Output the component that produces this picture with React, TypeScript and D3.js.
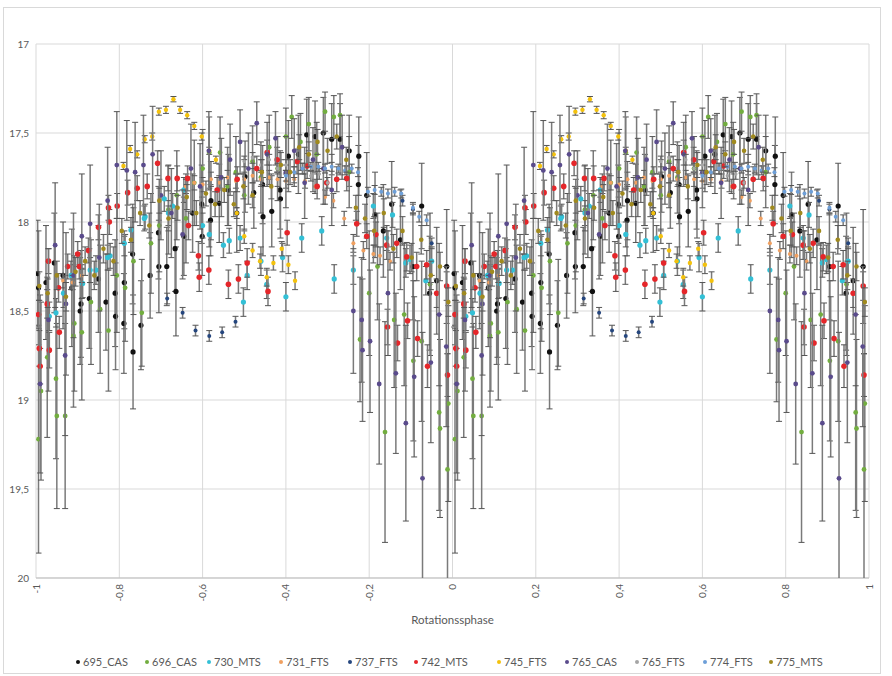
import React from 'react';
import * as d3 from 'd3';

type P = [number, number, number]; // [phase 0..1, magnitude, error]

const xTicks = [-1, -0.8, -0.6, -0.4, -0.2, 0, 0.2, 0.4, 0.6, 0.8, 1];
const yTicks = [17, 17.5, 18, 18.5, 19, 19.5, 20];
const xTitle = 'Rotationssphase';

const seriesNames = ['695_CAS', '696_CAS', '730_MTS', '731_FTS', '737_FTS', '742_MTS', '745_FTS', '765_CAS', '765_FTS', '774_FTS', '775_MTS'];

const s695_CAS: P[] = [
  [0.004, 18.29, 0.30], [0.006, 18.37, 0.32], [0.024, 18.34, 0.32], [0.044, 18.23, 0.28], [0.065, 18.30, 0.30],
  [0.086, 18.37, 0.33], [0.106, 18.50, 0.30], [0.108, 18.46, 0.30], [0.128, 18.43, 0.28], [0.150, 18.32, 0.30],
  [0.168, 18.45, 0.27], [0.190, 18.40, 0.30], [0.191, 18.53, 0.30], [0.211, 18.57, 0.28], [0.212, 18.34, 0.26],
  [0.232, 18.18, 0.28], [0.233, 18.73, 0.32], [0.252, 18.58, 0.25], [0.274, 18.30, 0.24], [0.294, 18.06, 0.26],
  [0.295, 18.25, 0.26], [0.314, 18.25, 0.22], [0.334, 18.15, 0.24], [0.336, 18.39, 0.25], [0.355, 18.08, 0.22],
  [0.376, 17.95, 0.22], [0.398, 17.90, 0.22], [0.399, 18.08, 0.22], [0.419, 17.99, 0.20], [0.420, 17.88, 0.22],
  [0.440, 17.895, 0.22], [0.462, 17.82, 0.20], [0.482, 17.95, 0.22], [0.502, 17.745, 0.20], [0.523, 17.835, 0.20],
  [0.544, 17.79, 0.22], [0.545, 17.97, 0.22], [0.566, 17.94, 0.20], [0.586, 17.82, 0.22], [0.587, 17.87, 0.22],
  [0.606, 17.63, 0.20], [0.630, 17.62, 0.22], [0.650, 17.51, 0.20], [0.670, 17.52, 0.20], [0.690, 17.50, 0.20],
  [0.710, 17.535, 0.20], [0.730, 17.535, 0.20], [0.752, 17.60, 0.20], [0.774, 17.79, 0.22], [0.775, 17.63, 0.22],
  [0.794, 17.85, 0.24], [0.814, 17.96, 0.24], [0.834, 18.05, 0.26], [0.854, 17.90, 0.24], [0.875, 18.10, 0.28],
  [0.905, 18.25, 0.30], [0.926, 17.91, 0.24], [0.945, 18.40, 0.32], [0.962, 18.33, 0.30], [0.986, 18.25, 0.32],
];

const s696_CAS: P[] = [
  [0.006, 19.22, 0.64], [0.012, 18.95, 0.50], [0.027, 18.76, 0.45], [0.048, 18.88, 0.45], [0.050, 19.09, 0.52],
  [0.070, 19.09, 0.52], [0.090, 18.64, 0.40], [0.092, 18.57, 0.38], [0.110, 18.62, 0.38], [0.132, 18.45, 0.35],
  [0.154, 18.49, 0.36], [0.174, 18.61, 0.34], [0.194, 18.30, 0.32], [0.214, 18.37, 0.30], [0.234, 18.22, 0.30],
  [0.254, 18.51, 0.30], [0.276, 18.12, 0.28], [0.296, 18.02, 0.26], [0.318, 17.93, 0.25], [0.338, 17.85, 0.25],
  [0.360, 17.98, 0.25], [0.380, 17.78, 0.24], [0.400, 17.70, 0.22], [0.416, 17.61, 0.20], [0.442, 17.61, 0.20],
  [0.460, 17.80, 0.22], [0.480, 17.72, 0.20], [0.500, 17.85, 0.20], [0.520, 17.66, 0.20], [0.540, 17.75, 0.20],
  [0.560, 17.58, 0.18], [0.580, 17.70, 0.18], [0.600, 17.52, 0.16], [0.614, 17.41, 0.12], [0.635, 17.55, 0.16],
  [0.655, 17.45, 0.15], [0.674, 17.62, 0.18], [0.694, 17.38, 0.11], [0.715, 17.41, 0.12], [0.730, 17.40, 0.12],
  [0.752, 17.72, 0.20], [0.778, 18.66, 0.35], [0.800, 18.40, 0.35], [0.820, 18.25, 0.30], [0.838, 19.18, 0.62],
  [0.860, 18.55, 0.38], [0.884, 18.52, 0.40], [0.906, 18.78, 0.45], [0.926, 18.67, 0.45], [0.946, 18.35, 0.40],
  [0.968, 19.07, 0.55], [0.970, 19.16, 0.50], [0.988, 19.39, 0.65], [0.990, 19.02, 0.55],
];

const s730_MTS: P[] = [
  [0.032, 18.53, 0.08], [0.048, 18.51, 0.08], [0.066, 18.40, 0.08], [0.084, 18.30, 0.08], [0.112, 18.345, 0.08],
  [0.130, 18.27, 0.07], [0.144, 18.27, 0.08], [0.172, 18.20, 0.07], [0.178, 18.19, 0.07], [0.212, 18.12, 0.07],
  [0.228, 18.045, 0.07], [0.260, 17.98, 0.07], [0.262, 17.97, 0.07], [0.308, 17.87, 0.07], [0.318, 17.95, 0.07],
  [0.328, 17.91, 0.07], [0.355, 17.82, 0.07], [0.400, 18.02, 0.07], [0.416, 18.07, 0.07], [0.450, 18.13, 0.07],
  [0.464, 18.105, 0.07], [0.490, 18.09, 0.07], [0.498, 18.45, 0.08], [0.507, 18.30, 0.08], [0.540, 18.22, 0.08],
  [0.554, 18.35, 0.08], [0.592, 18.20, 0.08], [0.600, 18.42, 0.08], [0.638, 18.09, 0.08], [0.686, 18.05, 0.08],
  [0.716, 18.32, 0.08], [0.762, 18.27, 0.08], [0.810, 17.91, 0.07], [0.842, 18.09, 0.07], [0.856, 17.96, 0.07],
  [0.888, 18.23, 0.08], [0.898, 18.21, 0.08], [0.936, 18.33, 0.08], [0.950, 18.22, 0.08],
];

const s731_FTS: P[] = [
  [0.065, 18.33, 0.04], [0.088, 18.34, 0.04], [0.110, 18.30, 0.04], [0.360, 17.80, 0.04], [0.380, 17.78, 0.04],
  [0.400, 17.79, 0.04], [0.420, 17.76, 0.04], [0.440, 17.78, 0.04], [0.460, 17.75, 0.04], [0.480, 17.77, 0.04],
  [0.500, 17.76, 0.04], [0.520, 17.74, 0.04], [0.540, 17.76, 0.04], [0.560, 17.75, 0.04], [0.580, 17.76, 0.04],
  [0.600, 17.77, 0.04], [0.620, 17.76, 0.04], [0.646, 17.77, 0.04], [0.670, 17.80, 0.04], [0.694, 17.86, 0.04],
  [0.714, 17.88, 0.04], [0.740, 17.98, 0.04], [0.762, 18.12, 0.05], [0.786, 18.16, 0.05], [0.810, 18.18, 0.05],
  [0.826, 18.19, 0.05], [0.850, 18.22, 0.05],
];

const s737_FTS: P[] = [
  [0.315, 18.43, 0.03], [0.352, 18.51, 0.03], [0.383, 18.61, 0.03], [0.416, 18.64, 0.03], [0.447, 18.62, 0.03],
  [0.479, 18.56, 0.03], [0.880, 17.88, 0.03], [0.905, 17.93, 0.03], [0.950, 18.12, 0.03],
];

const s742_MTS: P[] = [
  [0.006, 18.52, 0.08], [0.008, 18.71, 0.10], [0.010, 18.81, 0.10], [0.027, 18.46, 0.08], [0.030, 18.22, 0.07],
  [0.032, 18.72, 0.10], [0.054, 18.37, 0.08], [0.056, 18.62, 0.09], [0.076, 18.25, 0.07], [0.100, 18.18, 0.07],
  [0.104, 18.25, 0.07], [0.126, 18.16, 0.07], [0.150, 18.03, 0.07], [0.174, 17.92, 0.07], [0.176, 18.00, 0.07],
  [0.195, 17.91, 0.07], [0.220, 17.835, 0.07], [0.243, 17.81, 0.07], [0.267, 17.80, 0.07], [0.292, 17.67, 0.07],
  [0.317, 17.755, 0.07], [0.339, 17.755, 0.07], [0.364, 17.755, 0.07], [0.366, 18.02, 0.08], [0.390, 18.19, 0.08],
  [0.392, 18.31, 0.08], [0.415, 18.27, 0.08], [0.435, 17.82, 0.07], [0.462, 18.35, 0.08], [0.483, 17.76, 0.07],
  [0.486, 18.32, 0.08], [0.507, 18.23, 0.08], [0.530, 17.70, 0.07], [0.555, 17.61, 0.07], [0.557, 18.39, 0.08],
  [0.579, 17.65, 0.07], [0.603, 18.06, 0.07], [0.627, 17.66, 0.07], [0.651, 17.685, 0.07], [0.675, 17.80, 0.07],
  [0.698, 17.78, 0.07], [0.722, 17.76, 0.07], [0.746, 17.755, 0.07], [0.770, 18.01, 0.07], [0.794, 18.08, 0.07],
  [0.816, 18.07, 0.07], [0.842, 18.13, 0.08], [0.844, 18.59, 0.10], [0.866, 18.12, 0.08], [0.868, 18.68, 0.10],
  [0.890, 18.195, 0.08], [0.892, 18.555, 0.10], [0.914, 18.25, 0.08], [0.916, 18.655, 0.10], [0.938, 18.24, 0.08],
  [0.940, 18.81, 0.12], [0.962, 18.40, 0.08], [0.986, 18.36, 0.08], [0.988, 18.86, 0.12],
];

const s745_FTS: P[] = [
  [0.210, 17.685, 0.02], [0.226, 17.59, 0.02], [0.243, 17.62, 0.02], [0.261, 17.535, 0.02], [0.279, 17.52, 0.02],
  [0.295, 17.38, 0.02], [0.312, 17.37, 0.02], [0.330, 17.31, 0.015], [0.346, 17.37, 0.02], [0.363, 17.40, 0.02],
  [0.380, 17.46, 0.02], [0.398, 17.52, 0.02], [0.416, 17.60, 0.02], [0.432, 17.65, 0.02], [0.482, 17.95, 0.03],
  [0.500, 18.08, 0.04], [0.520, 18.16, 0.04], [0.538, 18.22, 0.04], [0.554, 18.31, 0.05], [0.570, 18.23, 0.04],
  [0.590, 18.15, 0.04], [0.606, 18.24, 0.05], [0.622, 18.33, 0.05],
];

const s765_CAS: P[] = [
  [0.010, 18.91, 0.50], [0.030, 18.55, 0.40], [0.046, 18.13, 0.35], [0.070, 18.75, 0.45], [0.072, 18.46, 0.40],
  [0.090, 18.30, 0.35], [0.110, 18.08, 0.35], [0.130, 18.01, 0.33], [0.152, 18.20, 0.30], [0.172, 17.88, 0.30],
  [0.194, 17.68, 0.30], [0.218, 17.71, 0.28], [0.238, 17.72, 0.28], [0.258, 17.68, 0.28], [0.280, 17.62, 0.27],
  [0.300, 17.85, 0.25], [0.325, 17.95, 0.25], [0.352, 18.07, 0.25], [0.372, 17.70, 0.25], [0.394, 17.80, 0.24],
  [0.415, 17.60, 0.22], [0.445, 17.75, 0.22], [0.466, 17.65, 0.20], [0.490, 17.55, 0.18], [0.510, 17.70, 0.20],
  [0.530, 17.445, 0.12], [0.555, 17.62, 0.18], [0.575, 17.53, 0.15], [0.600, 17.72, 0.20], [0.620, 17.60, 0.18],
  [0.645, 17.78, 0.20], [0.665, 17.65, 0.18], [0.690, 17.70, 0.20], [0.710, 17.82, 0.20], [0.735, 17.58, 0.18],
  [0.762, 18.50, 0.35], [0.782, 18.55, 0.35], [0.784, 18.72, 0.40], [0.802, 18.67, 0.40], [0.824, 18.91, 0.45],
  [0.845, 18.40, 0.35], [0.864, 18.85, 0.45], [0.888, 19.13, 0.55], [0.908, 18.87, 0.45], [0.928, 19.44, 0.82],
  [0.948, 18.79, 0.45], [0.968, 18.52, 0.40], [0.985, 18.70, 0.45],
];

const s765_FTS: P[] = [
  [0.500, 17.66, 0.03], [0.520, 17.64, 0.03], [0.540, 17.68, 0.03], [0.560, 17.65, 0.03], [0.580, 17.70, 0.03],
  [0.600, 17.68, 0.03], [0.620, 17.72, 0.03], [0.640, 17.70, 0.03], [0.660, 17.74, 0.03], [0.680, 17.73, 0.03],
  [0.700, 17.78, 0.03],
];

const s774_FTS: P[] = [
  [0.600, 17.74, 0.03], [0.620, 17.72, 0.03], [0.640, 17.70, 0.03], [0.660, 17.69, 0.025], [0.678, 17.69, 0.025],
  [0.694, 17.70, 0.025], [0.710, 17.69, 0.025], [0.726, 17.70, 0.025], [0.742, 17.71, 0.025], [0.758, 17.70, 0.025],
  [0.773, 17.72, 0.025], [0.797, 17.83, 0.025], [0.813, 17.82, 0.025], [0.829, 17.83, 0.025], [0.845, 17.84, 0.025],
  [0.861, 17.83, 0.025], [0.877, 17.84, 0.025], [0.905, 17.92, 0.03], [0.920, 17.97, 0.03], [0.938, 17.99, 0.03],
];

const s775_MTS: P[] = [
  [0.008, 18.36, 0.08], [0.028, 18.40, 0.08], [0.050, 18.30, 0.08], [0.072, 18.42, 0.08], [0.095, 18.28, 0.08],
  [0.118, 18.22, 0.08], [0.140, 18.30, 0.08], [0.162, 18.15, 0.08], [0.186, 18.22, 0.08], [0.206, 18.05, 0.07],
  [0.228, 18.10, 0.07], [0.250, 17.95, 0.07], [0.272, 18.02, 0.07], [0.296, 17.88, 0.07], [0.318, 17.98, 0.07],
  [0.340, 17.92, 0.07], [0.362, 17.86, 0.07], [0.385, 17.95, 0.07], [0.408, 17.84, 0.07], [0.430, 17.90, 0.07],
  [0.452, 17.82, 0.07], [0.475, 17.90, 0.07], [0.498, 17.80, 0.07], [0.520, 17.85, 0.07], [0.542, 17.72, 0.07],
  [0.565, 17.80, 0.07], [0.588, 17.68, 0.07], [0.610, 17.72, 0.07], [0.632, 17.58, 0.07], [0.655, 17.62, 0.07],
  [0.676, 17.55, 0.07], [0.700, 17.60, 0.07], [0.722, 17.52, 0.07], [0.745, 17.65, 0.07], [0.768, 17.92, 0.07],
  [0.790, 17.98, 0.08], [0.812, 18.05, 0.08], [0.835, 17.95, 0.08], [0.858, 18.15, 0.08], [0.880, 18.05, 0.08],
  [0.902, 18.20, 0.08], [0.925, 18.10, 0.08], [0.948, 18.30, 0.08], [0.970, 18.25, 0.08], [0.990, 18.45, 0.08],
];

const seriesData: P[][] = [s695_CAS, s696_CAS, s730_MTS, s731_FTS, s737_FTS, s742_MTS, s745_FTS, s765_CAS, s765_FTS, s774_FTS, s775_MTS];

// styles
const seriesColors = ['#111111', '#72ad3f', '#33c0d6', '#f0a060', '#25467e', '#e5262a', '#f4c20d', '#5a4b8c', '#a5a5a5', '#6d9fd8', '#a08a1e'];
const markerR = [2.6, 2.4, 2.6, 2.0, 2.0, 2.8, 2.2, 2.4, 1.8, 2.0, 2.3];
const legendX = [78, 147, 209, 281, 350, 416, 499, 567, 637, 705, 771];

const W = 892, H = 676;
const plot = { left: 36, right: 869, top: 44, bottom: 578 };
const font = 'Lato, "Open Sans", "DejaVu Sans", sans-serif';
const fmt = (v: number) => String(+v.toFixed(1)).replace('.', ',');

export default function App() {
  const x = d3.scaleLinear().domain([-1, 1]).range([plot.left, plot.right]);
  const y = d3.scaleLinear().domain([17, 20]).range([plot.top, plot.bottom]);
  const offsets = [-1, 0];

  return (
    <svg width={W} height={H} style={{ position: 'absolute', left: 0, top: 0, background: '#fff' }}
      xmlns="http://www.w3.org/2000/svg">
      <defs>
        <clipPath id="plotClip">
          <rect x={plot.left} y={plot.top - 2} width={plot.right - plot.left} height={plot.bottom - plot.top + 2} />
        </clipPath>
      </defs>
      <rect x={3.5} y={7.5} width={877} height={666} fill="#fff" stroke="#d9d9d9" />
      {/* grid */}
      {xTicks.map((t) => (
        <line key={'gx' + t} x1={x(t)} x2={x(t)} y1={plot.top} y2={plot.bottom} stroke="#d9d9d9" strokeWidth={1} />
      ))}
      {yTicks.map((t) => (
        <line key={'gy' + t} x1={plot.left} x2={plot.right} y1={y(t)} y2={y(t)} stroke="#d9d9d9" strokeWidth={1} />
      ))}
      <line x1={plot.left} x2={plot.right} y1={plot.bottom} y2={plot.bottom} stroke="#bfbfbf" strokeWidth={1} />
      {/* y labels */}
      {yTicks.map((t) => (
        <text key={'ly' + t} x={29} y={y(t) + 3.5} textAnchor="end" fontFamily={font} fontSize={10} fill="#595959">
          {fmt(t)}
        </text>
      ))}
      {/* x labels */}
      {xTicks.map((t) => (
        <text key={'lx' + t} transform={`translate(${x(t) + 3.5},${plot.bottom + 6}) rotate(-90)`} textAnchor="end"
          fontFamily={font} fontSize={10} fill="#595959">
          {fmt(t)}
        </text>
      ))}
      <text x={(plot.left + plot.right) / 2} y={624} textAnchor="middle" fontFamily={font} fontSize={11.5} fill="#595959">
        {xTitle}
      </text>
      {/* data */}
      <g clipPath="url(#plotClip)">
        {seriesData.map((data, si) => (
          <g key={'s' + si}>
            {offsets.map((off) =>
              data.map((p, i) => {
                const cx = x(p[0] + off);
                const y1 = y(p[1] - p[2]);
                const y2 = y(p[1] + p[2]);
                return (
                  <g key={`e${off}-${i}`} stroke="#7a7a7a" strokeWidth={1.5}>
                    <line x1={cx} x2={cx} y1={y1} y2={y2} />
                    <line x1={cx - 3} x2={cx + 3} y1={y1} y2={y1} stroke="#555" strokeWidth={1} />
                    <line x1={cx - 3} x2={cx + 3} y1={y2} y2={y2} stroke="#555" strokeWidth={1} />
                  </g>
                );
              })
            )}
            {offsets.map((off) =>
              data.map((p, i) => (
                <circle key={`m${off}-${i}`} cx={x(p[0] + off)} cy={y(p[1])} r={markerR[si]} fill={seriesColors[si]} />
              ))
            )}
          </g>
        ))}
      </g>
      {/* legend */}
      {seriesNames.map((n, i) => (
        <g key={'lg' + n}>
          <circle cx={legendX[i]} cy={662} r={2} fill={seriesColors[i]} />
          <text x={legendX[i] + 5} y={666} fontFamily={font} fontSize={11} fill="#595959">{n}</text>
        </g>
      ))}
    </svg>
  );
}
